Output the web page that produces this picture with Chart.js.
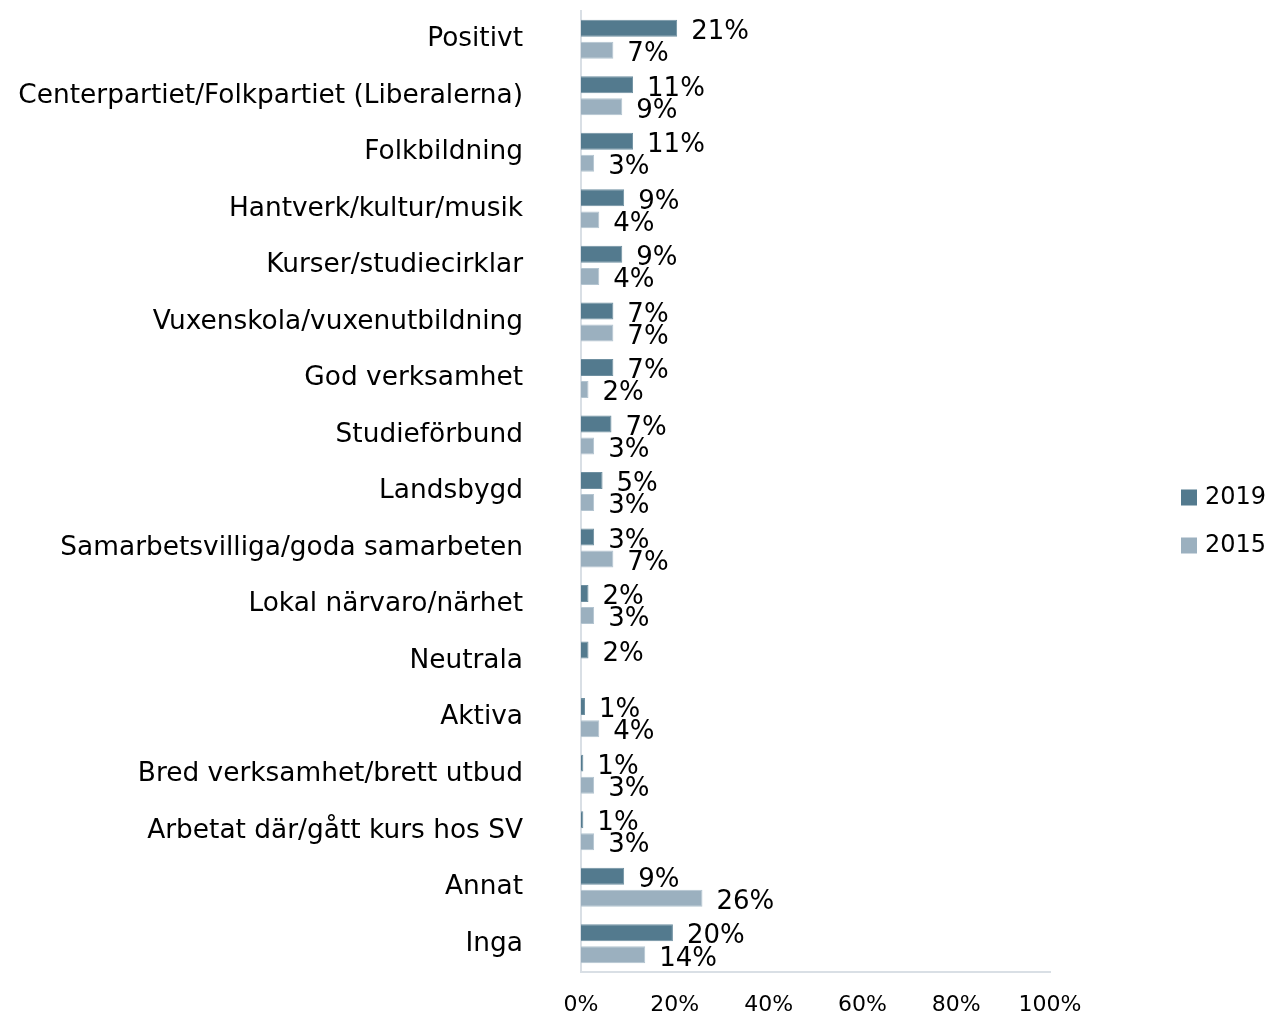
<!DOCTYPE html>
<html>
<head>
<meta charset="utf-8">
<script src="https://cdn.jsdelivr.net/npm/chart.js@4.4.1/dist/chart.umd.min.js"></script>
<style>
html,body{margin:0;padding:0;background:#fff;}
#wrap{width:1271px;height:1015px;position:relative;}
</style>
</head>
<body>
<div id="wrap"><canvas id="c" width="1271" height="1015"></canvas></div>
<script>
const categories = [
  "Positivt",
  "Centerpartiet/Folkpartiet (Liberalerna)",
  "Folkbildning",
  "Hantverk/kultur/musik",
  "Kurser/studiecirklar",
  "Vuxenskola/vuxenutbildning",
  "God verksamhet",
  "Studieförbund",
  "Landsbygd",
  "Samarbetsvilliga/goda samarbeten",
  "Lokal närvaro/närhet",
  "Neutrala",
  "Aktiva",
  "Bred verksamhet/brett utbud",
  "Arbetat där/gått kurs hos SV",
  "Annat",
  "Inga"
];
const seriesNames = ["2019", "2015"];
const values2019 = [20.5, 11.1, 11.1, 9.2, 8.8, 6.9, 6.9, 6.5, 4.6, 2.8, 1.6, 1.6, 0.85, 0.5, 0.5, 9.2, 19.6];
const values2015 = [6.9, 8.8, 2.8, 3.9, 3.9, 6.9, 1.6, 2.8, 2.8, 6.9, 2.8, null, 3.9, 2.8, 2.8, 25.9, 13.7];
const xTicks = [0, 20, 40, 60, 80, 100];

const FONT = "'DejaVu Sans', Verdana, sans-serif";
const colors = ["#537A8E", "#9BB0BF"];
const borderColors = ["#6F90A1", "#B3C4D0"];

const dataLabelPlugin = {
  id: 'barValueLabels',
  afterDatasetsDraw(chart) {
    const ctx = chart.ctx;
    ctx.save();
    ctx.font = "26px " + FONT;
    ctx.fillStyle = "#000";
    ctx.textAlign = "left";
    ctx.textBaseline = "middle";
    chart.data.datasets.forEach((ds, di) => {
      const meta = chart.getDatasetMeta(di);
      meta.data.forEach((bar, i) => {
        const v = ds.data[i];
        if (v === null || v === undefined) return;
        ctx.fillText(Math.round(v) + "%", bar.x + 14, bar.y + 4);
      });
    });
    ctx.restore();
  }
};

const sideLegendPlugin = {
  id: 'sideLegend',
  afterDraw(chart) {
    const ctx = chart.ctx;
    ctx.save();
    ctx.font = "24px " + FONT;
    ctx.textAlign = "left";
    ctx.textBaseline = "middle";
    const cy = (chart.chartArea.top + chart.chartArea.bottom) / 2;
    const startY = cy - 24 + 30;
    chart.data.datasets.forEach((ds, i) => {
      const y = startY + i * 48;
      ctx.fillStyle = ds.backgroundColor;
      ctx.fillRect(1181, y - 8, 16, 16);
      ctx.fillStyle = "#000";
      ctx.fillText(ds.label, 1205, y);
    });
    ctx.restore();
  }
};

new Chart(document.getElementById('c'), {
  type: 'bar',
  data: {
    labels: categories,
    datasets: [
      { label: seriesNames[0], data: values2019, backgroundColor: colors[0], borderColor: borderColors[0], borderWidth: 1, categoryPercentage: 0.78, barPercentage: 0.77 },
      { label: seriesNames[1], data: values2015, backgroundColor: colors[1], borderColor: borderColors[1], borderWidth: 1, categoryPercentage: 0.78, barPercentage: 0.77 }
    ]
  },
  options: {
    indexAxis: 'y',
    responsive: false,
    animation: false,
    layout: { padding: { top: 11, right: 221, left: 0, bottom: 0 } },
    plugins: { legend: { display: false }, tooltip: { enabled: false } },
    scales: {
      x: {
        min: 0, max: 100,
        afterBuildTicks(scale) { scale.ticks = xTicks.map(v => ({ value: v })); },
        afterFit(scale) { scale.height = 43; },
        grid: { display: false, drawTicks: false },
        border: { display: true, color: '#D9DFE5', width: 2 },
        ticks: { color: '#000', font: { family: FONT, size: 22 }, padding: 20, callback: v => v + '%' }
      },
      y: {
        afterFit(scale) { scale.width = 581; scale.paddingTop = 0; scale.paddingBottom = 0; },
        grid: { display: false, drawTicks: false },
        border: { display: true, color: '#D9DFE5', width: 2 },
        ticks: { color: '#000', font: { family: FONT, size: 26.4 }, padding: 58, autoSkip: false }
      }
    }
  },
  plugins: [dataLabelPlugin, sideLegendPlugin]
});
</script>
</body>
</html>
